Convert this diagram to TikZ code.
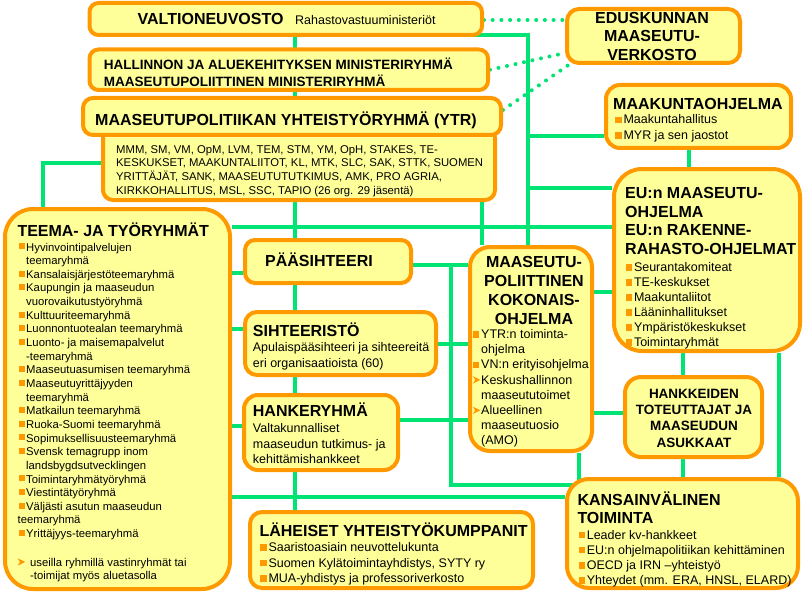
\documentclass[tikz,border=0pt]{standalone}
\usepackage{fontspec}
\setmainfont{Liberation Sans}
\usetikzlibrary{backgrounds,calc}
\definecolor{boxfill}{RGB}{255,255,153}
\definecolor{boxline}{RGB}{255,153,0}
\definecolor{linkgreen}{RGB}{0,228,115}
\newcommand{\bulb}{\makebox[8.3pt][l]{\textcolor{boxline}{\raisebox{0.8pt}{\rule{6.5pt}{6.5pt}}}}}
\newcommand{\buls}{\makebox[8.5pt][l]{\hspace*{0.8pt}\textcolor{boxline}{\raisebox{1.7pt}{\rule{6pt}{6pt}}}}}
\newcommand{\arrglyph}{\tikz[baseline=0pt]{\fill[boxline] (0pt,0.5pt) -- (7.5pt,4.2pt) -- (0pt,7.9pt) -- (2.2pt,4.2pt) -- cycle;}}
\newcommand{\arrb}{\makebox[8.3pt][l]{\arrglyph}}
\newcommand{\arrs}{\makebox[12.5pt][l]{\arrglyph}}
\newcommand{\contind}{\hspace*{8.5pt}}
\begin{document}
\begin{tikzpicture}[x=1pt,y=-1pt,
  box/.style={draw=boxline, line width=4pt, fill=boxfill, inner sep=0pt},
  gl/.style={draw=linkgreen, line width=4pt},
  dl/.style={draw=linkgreen, line width=4pt, line cap=round, dash pattern=on 0pt off 8.7pt},
  txt/.style={anchor=base west, inner sep=0pt, text=black},
  ctxt/.style={anchor=base, inner sep=0pt, text=black},
  hb/.style={font=\fontsize{16}{18.5}\selectfont\bfseries},
  hm/.style={font=\fontsize{13.5}{15.5}\selectfont\bfseries},
  bt/.style={font=\fontsize{12.5}{15.2}\selectfont},
  st/.style={font=\fontsize{11.3}{13.65}\selectfont}]
\useasboundingbox (0,0) rectangle (807,594);

% ---------- boxes ----------
\node[box, rounded corners=9pt, minimum width=392.5pt, minimum height=32pt] (valt) at (285.75,19) {};
\node[box, rounded corners=9pt, minimum width=398.5pt, minimum height=40.5pt] (hall) at (288.75,69.75) {};
\node[box, rounded corners=10pt, minimum width=392pt, minimum height=72pt] (ytrm) at (299,164) {};
\node[box, rounded corners=10pt, minimum width=418pt, minimum height=37pt] (ytr) at (292,116.5) {};
\node[box, rounded corners=12pt, minimum width=173pt, minimum height=54pt] (edus) at (653.5,36) {};
\node[box, rounded corners=14pt, minimum width=185pt, minimum height=63pt] (maak) at (698.5,116.5) {};
\node[box, rounded corners=28pt, minimum width=186pt, minimum height=182pt] (eu) at (707,260) {};
\node[box, rounded corners=28pt, minimum width=225pt, minimum height=380pt] (teema) at (117.5,399) {};
\node[box, rounded corners=10pt, minimum width=166pt, minimum height=43pt] (paas) at (328,261.5) {};
\node[box, rounded corners=12pt, minimum width=191pt, minimum height=63pt] (siht) at (340.5,343.5) {};
\node[box, rounded corners=14pt, minimum width=154pt, minimum height=75pt] (hank) at (321,432.5) {};
\node[box, rounded corners=12pt, minimum width=283pt, minimum height=76pt] (lah) at (391.5,550) {};
\node[box, rounded corners=20pt, minimum width=122pt, minimum height=204pt] (maas) at (531,349) {};
\node[box, rounded corners=16pt, minimum width=137pt, minimum height=80pt] (hankk) at (693.5,417) {};
\node[box, rounded corners=22pt, minimum width=231pt, minimum height=109pt] (kans) at (682.5,533.5) {};

% ---------- connector positions ----------
\coordinate (xT) at (295,0);
\coordinate (xR1) at (528,0);
\coordinate (xR2) at (482,0);
\coordinate (xL) at (451,0);
\coordinate (xM) at (579,0);
\coordinate (xE1) at (689,0);
\coordinate (xE2) at (683,0);
\coordinate (xE3) at (779,0);
\coordinate (xA) at (43,0);
\coordinate (vStart) at (457,35);
\coordinate (yMk) at (0,136);
\coordinate (yEu1) at (0,188);
\coordinate (yLong) at (0,227);
\coordinate (yP) at (0,273);
\coordinate (yS) at (0,329);
\coordinate (yH) at (0,426);
\coordinate (yPm) at (0,265);
\coordinate (yHm) at (0,420);
\coordinate (yLoop) at (0,485);
\coordinate (yK) at (0,497);
\coordinate (yEu2) at (0,292);
\coordinate (yHk) at (0,413);
\coordinate (yYt) at (0,163);
\coordinate (yDot1) at (0,20);
\coordinate (yDot2) at (0,53);
\coordinate (yDot3) at (0,110);

\begin{scope}[on background layer]
\fill[white] (0,0) rectangle (807,594);
\draw[gl] (valt.center -| xT) -- (hall.center -| xT);
\draw[gl] (hall.center -| xT) -- (ytr.center -| xT);
\draw[gl] (ytrm.center -| xT) -- (paas.center -| xT);
\draw[gl] (paas.center -| xT) -- (siht.center -| xT);
\draw[gl] (siht.center -| xT) -- (hank.center -| xT);
\draw[gl] (hank.center -| xT) -- (lah.center -| xT);
\draw[gl] (vStart) -| (maas.north -| xR1);
\draw[gl] (xR1 |- yMk) -- (maak.west |- yMk);
\draw[gl] (xR1 |- yEu1) -- (eu.west |- yEu1);
\draw[gl] (teema.east |- yLong) -- (eu.west |- yLong);
\draw[gl] (ytrm.south -| xR2) -- (maas.north -| xR2);
\draw[gl] (maak.south -| xE1) -- (eu.north -| xE1);
\draw[gl] (teema.east |- yP) -- (paas.west |- yP);
\draw[gl] (teema.east |- yS) -- (siht.west |- yS);
\draw[gl] (teema.east |- yH) -- (hank.west |- yH);
\draw[gl] (paas.east |- yPm) -- (maas.west |- yPm);
\draw[gl] (siht.east) -- (maas.west |- siht.east);
\draw[gl] (hank.east |- yHm) -- (maas.west |- yHm);
\draw[gl] (xL |- yPm) -- (xL |- yLoop) -| (maas.south -| xM);
\draw[gl] (teema.east |- yK) -- (kans.west |- yK);
\draw[gl] (maas.east |- yEu2) -- (eu.west |- yEu2);
\draw[gl] (maas.east |- yHk) -- (hankk.west |- yHk);
\draw[gl] (eu.south -| xE2) -- (hankk.north -| xE2);
\draw[gl] (hankk.south -| xE2) -- (kans.north -| xE2);
\draw[gl] (eu.south -| xE3) -- (kans.north -| xE3);
\draw[gl] (teema.north -| xA) |- (ytrm.west |- yYt);
\draw[dl] (valt.east |- yDot1) -- (edus.west |- yDot1);
\draw[dl] (hall.east) -- (edus.west |- yDot2);
\draw[dl] (ytr.east |- yDot3) -- ($(edus.south west)+(5,-1)$);
\end{scope}

% ---------- texts ----------
\node[txt, hb] (valtT) at (137.5,25) {VALTIONEUVOSTO};
\node[txt, bt] (valtS) at (295,25) {Rahastovastuuministeriöt};

\node[txt, hm] (hallT) at (103.6,70) {\begin{tabular}[t]{@{}l@{}}HALLINNON JA ALUEKEHITYKSEN MINISTERIRYHMÄ\\MAASEUTUPOLIITTINEN MINISTERIRYHMÄ\end{tabular}};

\node[txt, hb] (ytrT) at (95,125) {MAASEUTUPOLITIIKAN YHTEISTYÖRYHMÄ (YTR)};
\node[txt, st] (ytrmT) at (116,153.3) {\begin{tabular}[t]{@{}l@{}}MMM, SM, VM, OpM, LVM, TEM, STM, YM, OpH, STAKES, TE-\\KESKUKSET, MAAKUNTALIITOT, KL, MTK, SLC, SAK, STTK, SUOMEN\\YRITTÄJÄT, SANK, MAASEUTUTUTKIMUS, AMK, PRO AGRIA,\\KIRKKOHALLITUS, MSL, SSC, TAPIO (26 org. 29 jäsentä)\end{tabular}};

\node[ctxt, hb] (edusT) at (652,23.5) {\begin{tabular}[t]{@{}c@{}}EDUSKUNNAN\\MAASEUTU-\\VERKOSTO\end{tabular}};

\node[txt, hb] (maakT) at (613,109.3) {MAAKUNTAOHJELMA};
\node[txt, font=\fontsize{12.5}{15.5}\selectfont] (maakL) at (615,124) {\begin{tabular}[t]{@{}l@{}}\bulb Maakuntahallitus\\\bulb MYR ja sen jaostot\end{tabular}};

\node[txt, hb] (euT) at (625,198.5) {\begin{tabular}[t]{@{}l@{}}EU:n MAASEUTU-\\OHJELMA\\EU:n RAKENNE-\\RAHASTO-OHJELMAT\end{tabular}};
\node[txt, font=\fontsize{12.5}{15}\selectfont] (euL) at (625.5,271.5) {\begin{tabular}[t]{@{}l@{}}\bulb Seurantakomiteat\\\bulb TE-keskukset\\\bulb Maakuntaliitot\\\bulb Lääninhallitukset\\\bulb Ympäristökeskukset\\\bulb Toimintaryhmät\end{tabular}};

\node[txt, hb] (teemaT) at (17.3,236) {TEEMA- JA TYÖRYHMÄT};
\node[txt, st] (teemaL) at (17.5,251) {\begin{tabular}[t]{@{}l@{}}
\buls Hyvinvointipalvelujen\\
\contind teemaryhmä\\
\buls Kansalaisjärjestöteemaryhmä\\
\buls Kaupungin ja maaseudun\\
\contind vuorovaikutustyöryhmä\\
\buls Kulttuuriteemaryhmä\\
\buls Luonnontuotealan teemaryhmä\\
\buls Luonto- ja maisemapalvelut\\
\contind -teemaryhmä\\
\buls Maaseutuasumisen teemaryhmä\\
\buls Maaseutuyrittäjyyden\\
\contind teemaryhmä\\
\buls Matkailun teemaryhmä\\
\buls Ruoka-Suomi teemaryhmä\\
\buls Sopimuksellisuusteemaryhmä\\
\buls Svensk temagrupp inom\\
\contind landsbygdsutvecklingen\\
\buls Toimintaryhmätyöryhmä\\
\buls Viestintätyöryhmä\\
\buls Väljästi asutun maaseudun\\
teemaryhmä\\
\buls Yrittäjyys-teemaryhmä\\[1.2pt]
\\
\arrs useilla ryhmillä vastinryhmät tai\\
\hspace*{12.5pt}-toimijat myös aluetasolla
\end{tabular}};

\node[txt, hb] (paasT) at (265,266) {PÄÄSIHTEERI};

\node[txt, hb] (sihtT) at (252.7,336.7) {SIHTEERISTÖ};
\node[txt, font=\fontsize{12.5}{16}\selectfont] (sihtL) at (252.7,351.7) {\begin{tabular}[t]{@{}l@{}}Apulaispääsihteeri ja sihteereitä\\eri organisaatioista (60)\end{tabular}};

\node[txt, hb] (hankT) at (252.7,416.7) {HANKERYHMÄ};
\node[txt, font=\fontsize{12.5}{15.3}\selectfont] (hankL) at (252.7,432.7) {\begin{tabular}[t]{@{}l@{}}Valtakunnalliset\\maaseudun tutkimus- ja\\kehittämishankkeet\end{tabular}};

\node[txt, hb] (lahT) at (259.3,536.7) {LÄHEISET YHTEISTYÖKUMPPANIT};
\node[txt, font=\fontsize{12.5}{15.5}\selectfont] (lahL) at (260,551.7) {\begin{tabular}[t]{@{}l@{}}\bulb Saaristoasiain neuvottelukunta\\\bulb Suomen Kylätoimintayhdistys, SYTY ry\\\bulb MUA-yhdistys ja professoriverkosto\end{tabular}};

\node[ctxt, font=\fontsize{16}{19}\selectfont\bfseries] (maasT) at (534,267) {\begin{tabular}[t]{@{}c@{}}MAASEUTU-\\POLIITTINEN\\KOKONAIS-\\OHJELMA\end{tabular}};
\node[txt, bt] (maasL) at (472.7,338.5) {\begin{tabular}[t]{@{}l@{}}\bulb YTR:n toiminta-\\\hspace*{8.3pt}ohjelma\\\bulb VN:n erityisohjelma\\\arrb Keskushallinnon\\\hspace*{8.3pt}maaseututoimet\\\arrb Alueellinen\\\hspace*{8.3pt}maaseutuosio\\\hspace*{8.3pt}(AMO)\end{tabular}};

\node[ctxt, font=\fontsize{13.5}{16.3}\selectfont\bfseries] (hankkT) at (694,398.3) {\begin{tabular}[t]{@{}c@{}}HANKKEIDEN\\TOTEUTTAJAT JA\\MAASEUDUN\\ASUKKAAT\end{tabular}};

\node[txt, font=\fontsize{16}{18.3}\selectfont\bfseries] (kansT) at (577.3,505) {\begin{tabular}[t]{@{}l@{}}KANSAINVÄLINEN\\TOIMINTA\end{tabular}};
\node[txt, bt] (kansL) at (578.3,539) {\begin{tabular}[t]{@{}l@{}}\bulb Leader kv-hankkeet\\\bulb EU:n ohjelmapolitiikan kehittäminen\\\bulb OECD ja IRN –yhteistyö\\\bulb Yhteydet (mm. ERA, HNSL, ELARD)\end{tabular}};
\end{tikzpicture}
\end{document}
